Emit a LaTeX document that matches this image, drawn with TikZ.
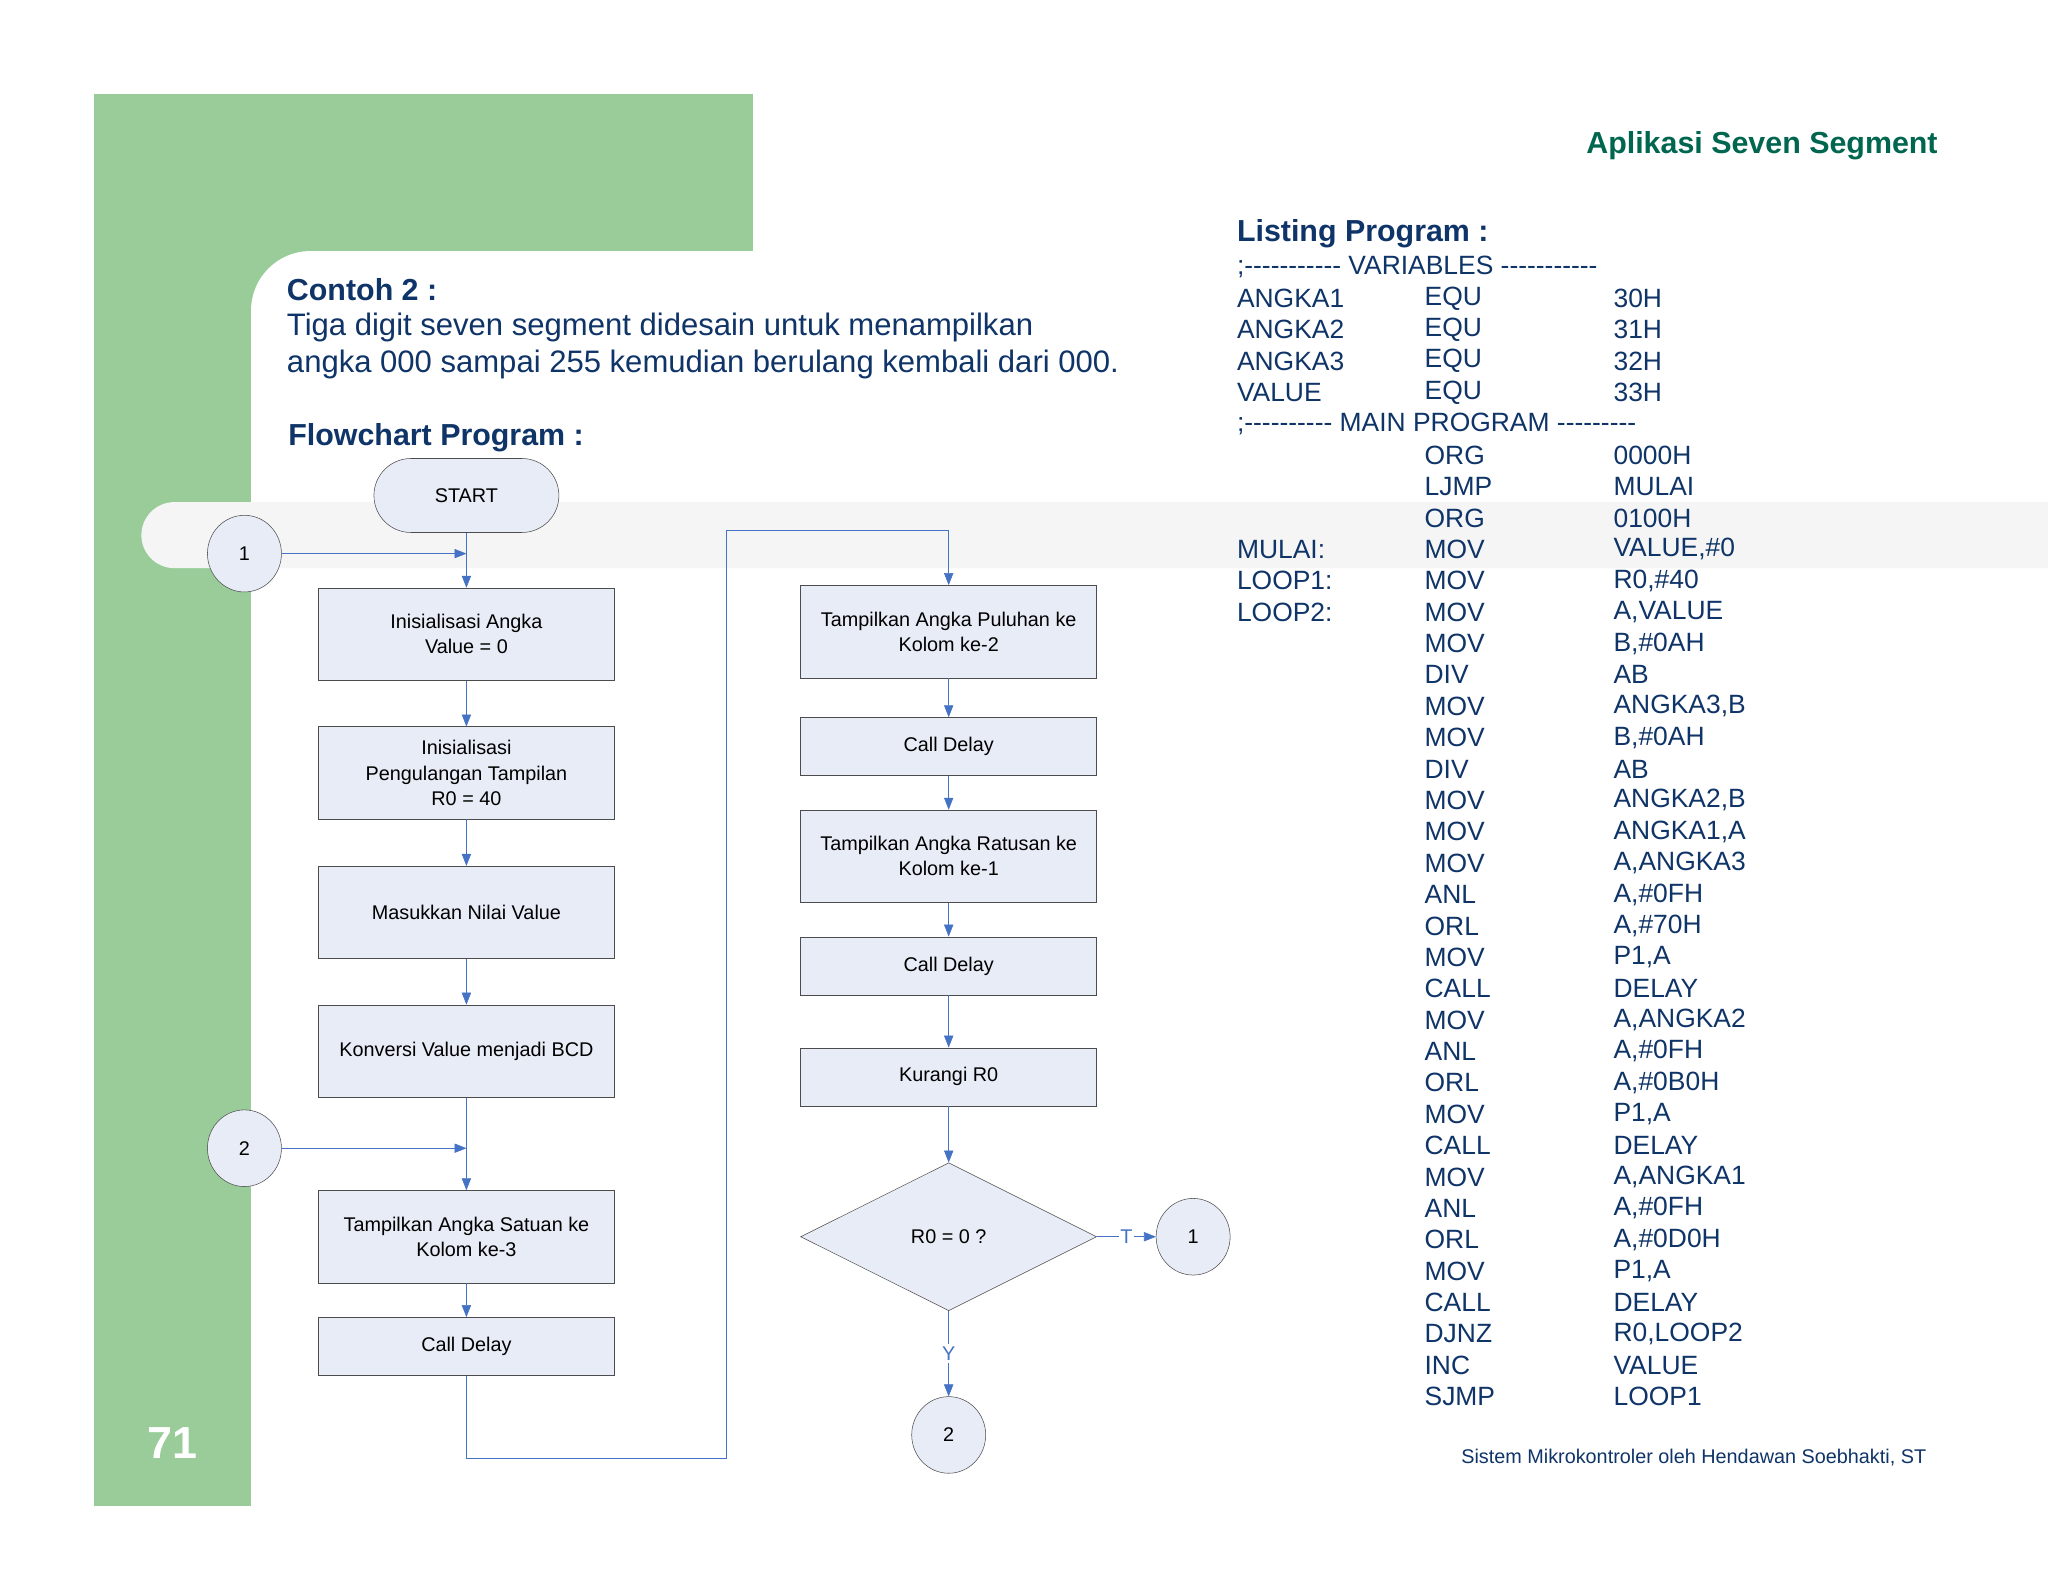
\documentclass[tikz,border=0pt]{standalone}
\usepackage{fontspec}
\setmainfont{Liberation Sans}[Ligatures=TeXOff]
\usetikzlibrary{shapes.geometric,arrows.meta}
\definecolor{gr}{HTML}{99CC99}
\definecolor{navy}{HTML}{0F3468}
\definecolor{teal}{HTML}{00664F}
\definecolor{fillb}{HTML}{E8ECF6}
\definecolor{ln}{HTML}{4472C4}
\begin{document}
\begin{tikzpicture}[x=1pt,y=-1pt,
  box/.style={draw=black!70,fill=fillb,minimum width=224pt,align=center,font=\fontsize{15}{19}\selectfont,inner sep=0pt},
  conn/.style={draw=black!70,fill=fillb,ellipse,minimum width=56pt,minimum height=58pt,inner sep=0pt,font=\fontsize{15}{18}\selectfont},
  ar/.style={ln,-{Triangle[width=7pt,length=9pt]}},
  lst/.style={anchor=west,text=navy,font=\fontsize{20}{22}\selectfont,inner sep=0pt}]
\useasboundingbox (0,0) rectangle (1550,1197);
\fill[white] (0,0) rectangle (1550,1197);
% background
\fill[gr] (71,71) rectangle (570,190);
\fill[gr] (71,71) rectangle (190,1140);
\fill[gr] (190,190) rectangle (260,260);
\fill[white,rounded corners=45pt] (190,190) rectangle (1700,1300);
\fill[black!4,rounded corners=25pt] (107,380) rectangle (1700,430);
% texts
\node[anchor=east,text=teal,font=\fontsize{23}{26}\selectfont\bfseries] (title) at (1470,110) {Aplikasi Seven Segment};
\node[anchor=west,text=white,font=\fontsize{34}{36}\selectfont\bfseries] (pg) at (108,1092) {71};
\node[anchor=west,text=navy,font=\fontsize{23}{26}\selectfont\bfseries,inner sep=0pt] (c2) at (217,219) {Contoh 2 :};
\node[anchor=west,text=navy,font=\fontsize{23.5}{26}\selectfont,inner sep=0pt] (d1) at (217,248) {Tiga digit seven segment didesain untuk menampilkan};
\node[anchor=west,text=navy,font=\fontsize{23.5}{26}\selectfont,inner sep=0pt] (d2) at (217,276) {angka 000 sampai 255 kemudian berulang kembali dari 000.};
\node[anchor=west,text=navy,font=\fontsize{23}{26}\selectfont\bfseries,inner sep=0pt] (fp) at (218,331) {Flowchart Program :};
\node[anchor=west,text=navy,font=\fontsize{23}{26}\selectfont\bfseries,inner sep=0pt] (lp) at (936,177) {Listing Program :};
\node[anchor=east,text=navy,font=\fontsize{15}{18}\selectfont,inner sep=0pt] (foot) at (1458,1103) {Sistem Mikrokontroler oleh Hendawan Soebhakti, ST};
% listing
\foreach \i/\a/\b/\c in {0/{;----------- VARIABLES -----------}//,
 1/ANGKA1/EQU/30H,2/ANGKA2/EQU/31H,3/ANGKA3/EQU/32H,4/VALUE/EQU/33H,
 5/{;---------- MAIN PROGRAM ---------}//,
 6//ORG/0000H,7//LJMP/MULAI,8//ORG/0100H,9/MULAI:/MOV/{VALUE,\#0},
 10/LOOP1:/MOV/{R0,\#40},11/LOOP2:/MOV/{A,VALUE},12//MOV/{B,\#0AH},13//DIV/AB,
 14//MOV/{ANGKA3,B},15//MOV/{B,\#0AH},16//DIV/AB,17//MOV/{ANGKA2,B},18//MOV/{ANGKA1,A},
 19//MOV/{A,ANGKA3},20//ANL/{A,\#0FH},21//ORL/{A,\#70H},22//MOV/{P1,A},23//CALL/DELAY,
 24//MOV/{A,ANGKA2},25//ANL/{A,\#0FH},26//ORL/{A,\#0B0H},27//MOV/{P1,A},28//CALL/DELAY,
 29//MOV/{A,ANGKA1},30//ANL/{A,\#0FH},31//ORL/{A,\#0D0H},32//MOV/{P1,A},33//CALL/DELAY,
 34//DJNZ/{R0,LOOP2},35//INC/VALUE,36//SJMP/LOOP1}
 {\node[lst] (la\i) at (936,202+23.75*\i) {\a};
  \node[lst] (lb\i) at (1078,202+23.75*\i) {\b};
  \node[lst] (lc\i) at (1221,202+23.75*\i) {\c};}
% flowchart left
\node[box,rounded corners=28pt,minimum width=140pt,minimum height=56pt] (start) at (353,375) {START};
\node[conn] (c1) at (185,419) {1};
\node[box,minimum height=70pt] (b1) at (353,480) {Inisialisasi Angka\\Value = 0};
\node[box,minimum height=70pt] (b2) at (353,585) {Inisialisasi\\Pengulangan Tampilan\\R0 = 40};
\node[box,minimum height=70pt] (b3) at (353,690.5) {Masukkan Nilai Value};
\node[box,minimum height=70pt] (b4) at (353,795.5) {Konversi Value menjadi BCD};
\node[conn] (c2a) at (185,869) {2};
\node[box,minimum height=70pt] (b5) at (353,936) {Tampilkan Angka Satuan ke\\Kolom ke-3};
\node[box,minimum height=44pt] (b6) at (353,1019) {Call Delay};
% right column
\node[box,minimum height=70pt] (b7) at (718,478) {Tampilkan Angka Puluhan ke\\Kolom ke-2};
\node[box,minimum height=44pt] (b8) at (718,565) {Call Delay};
\node[box,minimum height=70pt] (b9) at (718,648) {Tampilkan Angka Ratusan ke\\Kolom ke-1};
\node[box,minimum height=44pt] (b10) at (718,731) {Call Delay};
\node[box,minimum height=44pt] (b11) at (718,815) {Kurangi R0};
\node[box,diamond,aspect=2,minimum width=224pt,minimum height=112pt] (dec) at (718,936) {R0 = 0 ?};
\node[conn] (c1b) at (903,936) {1};
\node[conn] (c2b) at (718,1086) {2};
\coordinate (j1) at (353,419);
\coordinate (j2) at (353,869);
\coordinate (p1) at (353,1104);
\coordinate (p2) at (550,1104);
\coordinate (p3) at (550,401);
\coordinate (p4) at (718,401);
% connectors
\draw[ar] (c1) -- (j1);
\draw[ar] (start) -- (b1);
\draw[ar] (b1) -- (b2);
\draw[ar] (b2) -- (b3);
\draw[ar] (b3) -- (b4);
\draw[ar] (c2a) -- (j2);
\draw[ar] (b4) -- (b5);
\draw[ar] (b5) -- (b6);
\draw[ar] (b6) -- (p1) -- (p2) -- (p3) -- (p4) -- (b7);
\draw[ar] (b7) -- (b8);
\draw[ar] (b8) -- (b9);
\draw[ar] (b9) -- (b10);
\draw[ar] (b10) -- (b11);
\draw[ar] (b11) -- (dec);
\draw[ar] (dec) -- node[fill=white,inner sep=1pt,font=\fontsize{15}{18}\selectfont]{T} (c1b);
\draw[ar] (dec) -- node[fill=white,inner sep=2pt,font=\fontsize{15}{18}\selectfont,pos=0.5]{Y} (c2b);
\end{tikzpicture}
\end{document}
